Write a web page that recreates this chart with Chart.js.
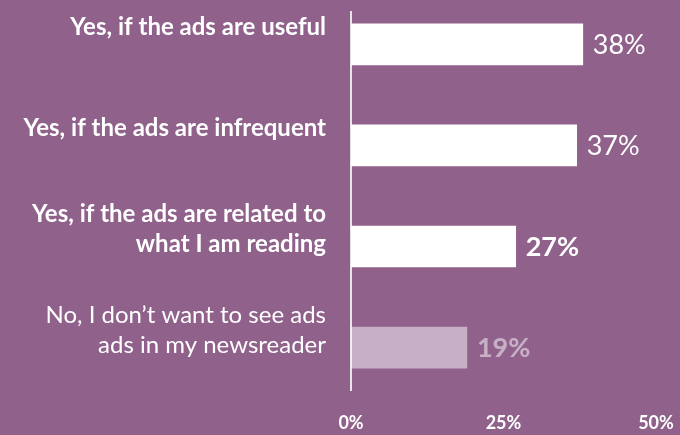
<!DOCTYPE html>
<html>
<head>
<meta charset="utf-8">
<script src="https://cdn.jsdelivr.net/npm/chart.js@4/dist/chart.umd.min.js"></script>
<style>
  html, body { margin: 0; padding: 0; background: #8f618b; }
  #wrap { width: 680px; height: 435px; }
</style>
</head>
<body>
<div id="wrap"><canvas id="c" width="680" height="435"></canvas></div>
<script>
// Answers (multi-line labels are arrays of lines)
const categories = [
  ['Yes, if the ads are useful'],
  ['Yes, if the ads are infrequent'],
  ['Yes, if the ads are related to', 'what I am reading'],
  ['No, I don\u2019t want to see ads', 'ads in my newsreader']
];
// Share of respondents, percent
const shares = [38, 37, 27, 19];
// Percent axis ticks
const percentTicks = [0, 25, 50];

const WHITE = '#ffffff';
const MUTED = 'rgba(255,255,255,0.5)';
const barColors = [WHITE, WHITE, WHITE, MUTED];
const valueWeights = ['normal', 'normal', 'bold', 'bold'];

// Writes "NN%" just past the end of each bar
const valueLabels = {
  id: 'valueLabels',
  afterDatasetsDraw(chart) {
    const ctx = chart.ctx;
    const meta = chart.getDatasetMeta(0);
    ctx.save();
    ctx.textBaseline = 'middle';
    ctx.textAlign = 'left';
    meta.data.forEach((bar, i) => {
      ctx.font = valueWeights[i] + ' 27px Lato';
      ctx.fillStyle = barColors[i];
      ctx.fillText(shares[i] + '%', bar.x + 10, bar.y + 1);
    });
    ctx.restore();
  }
};

const noEdgePadding = (s) => {
  s.paddingTop = 0; s.paddingBottom = 0;
  s.paddingLeft = 0; s.paddingRight = 0;
};

new Chart(document.getElementById('c'), {
  type: 'bar',
  data: {
    datasets: [{
      data: shares.map((v, i) => ({ x: v, y: i })),
      backgroundColor: barColors,
      borderWidth: 0,
      barThickness: 41
    }]
  },
  options: {
    indexAxis: 'y',
    responsive: false,
    animation: false,
    layout: { padding: { top: 12, right: 24, bottom: 0, left: 0 } },
    plugins: { legend: { display: false }, tooltip: { enabled: false } },
    scales: {
      x: {
        type: 'linear',
        min: 0,
        max: 50,
        afterBuildTicks: (s) => { s.ticks = percentTicks.map(v => ({ value: v })); },
        afterFit: (s) => { noEdgePadding(s); s.height = 45; },
        grid: { display: false, drawTicks: false },
        border: { display: false },
        ticks: {
          padding: 22,
          color: WHITE,
          font: { family: 'Lato', size: 18, weight: 'bold' },
          callback: (v) => v + '%',
          maxRotation: 0
        }
      },
      y: {
        type: 'linear',
        reverse: true,
        offset: false,
        min: -0.32,
        max: 3.42,
        afterBuildTicks: (s) => { s.ticks = categories.map((_, i) => ({ value: i })); },
        afterFit: (s) => { noEdgePadding(s); s.width = 351; },
        grid: { display: false, drawTicks: false },
        border: { display: true, color: '#e8e4e8', width: 2 },
        ticks: {
          padding: 25,
          labelOffset: -17,
          color: WHITE,
          font: (c) => ({
            family: 'Lato',
            size: 24,
            weight: c.index === 3 ? 'normal' : 'bold',
            lineHeight: 1.25
          }),
          callback: (v) => categories[v]
        }
      }
    }
  },
  plugins: [valueLabels]
});
</script>
</body>
</html>
